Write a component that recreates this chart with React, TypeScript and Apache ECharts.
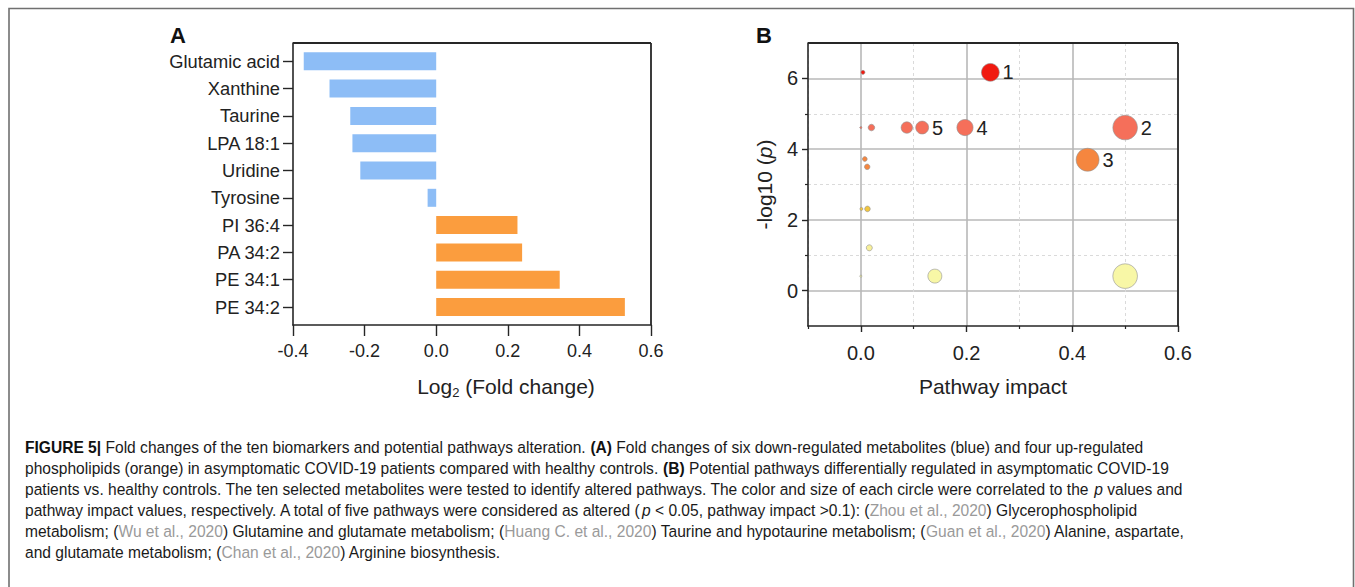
import React, { useEffect, useRef } from "react";
import * as echarts from "echarts";

// ---------- Panel A data ----------
const metabolites = [
  "Glutamic acid",
  "Xanthine",
  "Taurine",
  "LPA 18:1",
  "Uridine",
  "Tyrosine",
  "PI 36:4",
  "PA 34:2",
  "PE 34:1",
  "PE 34:2",
];
const log2FoldChange = [-0.37, -0.298, -0.24, -0.234, -0.212, -0.024, 0.227, 0.24, 0.345, 0.527];

// ---------- Panel B data ----------
const pathwayImpact = [0.245, 0.004, 0.5, 0.197, 0.116, 0.087, 0.02, 0.0, 0.429, 0.0075, 0.012, 0.0125, 0.001, 0.016, 0.14, 0.5, 0.0];
const negLog10P = [6.17, 6.17, 4.61, 4.61, 4.61, 4.61, 4.61, 4.61, 3.7, 3.72, 3.5, 2.31, 2.31, 1.21, 0.41, 0.41, 0.41];
const pathwayLabels = ["1", "", "2", "4", "5", "", "", "", "3", "", "", "", "", "", "", "", ""];
const impactMajorTicks = [0, 0.2, 0.4, 0.6];
const impactMinorTicks = [-0.1, 0.1, 0.3, 0.5];
const pMajorTicks = [0, 2, 4, 6];
const pMinorTicks = [1, 3, 5];

// ---------- Caption ----------
const captionLines = [
  "{b|FIGURE 5|} Fold changes of the ten biomarkers and potential pathways alteration. {b|(A)} Fold changes of six down-regulated metabolites (blue) and four up-regulated",
  "phospholipids (orange) in asymptomatic COVID-19 patients compared with healthy controls. {b|(B)} Potential pathways differentially regulated in asymptomatic COVID-19",
  "patients vs. healthy controls. The ten selected metabolites were tested to identify altered pathways. The color and size of each circle were correlated to the {i|p} values and",
  "pathway impact values, respectively. A total of five pathways were considered as altered ({i|p} < 0.05, pathway impact >0.1): ({g|Zhou et al., 2020}) Glycerophospholipid",
  "metabolism; ({g|Wu et al., 2020}) Glutamine and glutamate metabolism; ({g|Huang C. et al., 2020}) Taurine and hypotaurine metabolism; ({g|Guan et al., 2020}) Alanine, aspartate,",
  "and glutamate metabolism; ({g|Chan et al., 2020}) Arginine biosynthesis.",
];

const FONT = "'Liberation Sans', Arial, Helvetica, sans-serif";
const BLUE = "#8dbdf6";
const ORANGE = "#fb9d3e";
const AXIS = "#262626";

const fmt1 = (v: number) => (Math.abs(v) < 1e-9 ? "0.0" : v.toFixed(1));

const frameLine = { show: true, onZero: false, lineStyle: { color: AXIS, width: 1.6 } };

const frameA = { left: 293, top: 43, width: 358, height: 282 };
const frameB = { left: 808, top: 43, width: 370, height: 283 };

export default function App() {
  const ref = useRef<HTMLDivElement>(null);

  useEffect(() => {
    document.body.style.margin = "0";
    if (!ref.current) return;
    const chart = echarts.init(ref.current, undefined, { renderer: "svg" });

    const band = 27.3;
    const barsGridTop = 61.3 - band / 2;

    const frameEdges = (f: typeof frameA) => [
      { type: "line", silent: true, z: 50, shape: { x1: f.left, y1: f.top, x2: f.left + f.width, y2: f.top }, style: { stroke: AXIS, lineWidth: 1.8 } },
      { type: "line", silent: true, z: 50, shape: { x1: f.left + f.width, y1: f.top, x2: f.left + f.width, y2: f.top + f.height }, style: { stroke: AXIS, lineWidth: 1.8 } },
    ];

    const option: any = {
      animation: false,
      textStyle: { fontFamily: FONT },
      grid: [
        { ...frameA, show: false },
        { left: frameA.left, width: frameA.width, top: barsGridTop, height: band * 10, show: false },
        { ...frameB, show: false },
      ],
      xAxis: [
        {
          gridIndex: 0,
          type: "value",
          position: "bottom",
          min: -0.4,
          max: 0.6,
          interval: 0.2,
          axisLine: frameLine,
          axisTick: { show: true, length: 11, inside: false, lineStyle: { color: AXIS, width: 1.4 } },
          axisLabel: { fontSize: 18, color: "#222", margin: 17, formatter: (v: number) => fmt1(v), fontFamily: FONT },
          splitLine: { show: false },
          name: "Log{sub|2} (Fold change)",
          nameLocation: "middle",
          nameGap: 48,
          nameTextStyle: {
            fontSize: 21,
            color: "#222",
            fontFamily: FONT,
            lineHeight: 26,
            padding: [0, 0, 0, 68],
            rich: { sub: { fontSize: 13, lineHeight: 13, verticalAlign: "bottom", fontFamily: FONT, color: "#222" } },
          },
        },
        { gridIndex: 1, type: "value", min: -0.4, max: 0.6, show: false },
        {
          gridIndex: 2,
          type: "value",
          position: "bottom",
          min: -0.1,
          max: 0.6,
          axisLine: frameLine,
          axisTick: { show: true, length: 6, customValues: impactMajorTicks, lineStyle: { color: AXIS, width: 1.4 } },
          axisLabel: { fontSize: 20, color: "#222", margin: 17, customValues: impactMajorTicks, formatter: (v: number) => fmt1(v), fontFamily: FONT },
          splitLine: { show: true, lineStyle: { color: "#b8b8b8", width: 1.6 } },
          name: "Pathway impact",
          nameLocation: "middle",
          nameGap: 50,
          nameTextStyle: { fontSize: 21, color: "#222", fontFamily: FONT },
        },
        {
          gridIndex: 2,
          type: "value",
          position: "bottom",
          min: -0.1,
          max: 0.6,
          axisLine: { show: false, onZero: false },
          axisTick: { show: true, length: 3, customValues: impactMinorTicks, lineStyle: { color: AXIS, width: 1.2 } },
          axisLabel: { show: false, customValues: impactMinorTicks },
          splitLine: { show: true, lineStyle: { color: "#dadada", width: 1, type: [3, 3] } },
        },
      ],
      yAxis: [
        { gridIndex: 0, type: "value", position: "left", min: 0, max: 1, axisLine: frameLine, axisTick: { show: false }, axisLabel: { show: false }, splitLine: { show: false } },
        {
          gridIndex: 1,
          type: "category",
          data: metabolites,
          inverse: true,
          boundaryGap: true,
          position: "left",
          axisLine: { show: false, onZero: false },
          axisTick: { show: true, alignWithLabel: true, length: 10, lineStyle: { color: AXIS, width: 1.4 } },
          axisLabel: { fontSize: 18.3, color: "#222", margin: 13, fontFamily: FONT },
          splitLine: { show: false },
        },
        {
          gridIndex: 2,
          type: "value",
          position: "left",
          min: -1,
          max: 7,
          axisLine: frameLine,
          axisTick: { show: true, length: 6, customValues: pMajorTicks, lineStyle: { color: AXIS, width: 1.4 } },
          axisLabel: { fontSize: 20, color: "#222", margin: 10, customValues: pMajorTicks, fontFamily: FONT },
          splitLine: { show: true, lineStyle: { color: "#b8b8b8", width: 1.6 } },
          name: "-log10 ({i|p})",
          nameLocation: "middle",
          nameRotate: 90,
          nameGap: 33,
          nameTextStyle: {
            fontSize: 21,
            color: "#222",
            fontFamily: FONT,
            rich: { i: { fontSize: 21, fontStyle: "italic", color: "#222", fontFamily: FONT } },
          },
        },
        {
          gridIndex: 2,
          type: "value",
          position: "left",
          min: -1,
          max: 7,
          axisLine: { show: false, onZero: false },
          axisTick: { show: true, length: 3, customValues: pMinorTicks, lineStyle: { color: AXIS, width: 1.2 } },
          axisLabel: { show: false, customValues: pMinorTicks },
          splitLine: { show: true, lineStyle: { color: "#dadada", width: 1, type: [3, 3] } },
        },
      ],
      visualMap: [
        {
          type: "piecewise",
          show: false,
          seriesIndex: 1,
          dimension: 1,
          pieces: [
            { lt: 1, color: "#f8f7a6" },
            { gte: 1, lt: 2, color: "#f8f09a" },
            { gte: 2, lt: 3, color: "#f2c63e" },
            { gte: 3, lt: 4, color: "#f5863f" },
            { gte: 4, lt: 5, color: "#f56f5a" },
            { gte: 5, color: "#f01a10" },
          ],
        },
      ],
      series: [
        {
          type: "bar",
          xAxisIndex: 1,
          yAxisIndex: 1,
          data: log2FoldChange,
          barWidth: 18,
          itemStyle: {
            color: (p: any) => (p.value < 0 ? BLUE : ORANGE),
          },
        },
        {
          type: "scatter",
          xAxisIndex: 2,
          yAxisIndex: 2,
          data: pathwayImpact.map((x, i) => [x, negLog10P[i]]),
          symbol: "circle",
          symbolSize: (val: number[]) => 2 + 32 * Math.sqrt(val[0]),
          itemStyle: { borderColor: "#909090", borderWidth: 0.6, opacity: 1 },
          label: {
            show: true,
            position: "right",
            distance: 3,
            fontSize: 20,
            color: "#222",
            fontFamily: FONT,
            formatter: (p: any) => pathwayLabels[p.dataIndex],
          },
          z: 3,
        },
      ],
      graphic: [
        {
          type: "rect",
          silent: true,
          shape: { x: 9, y: 8.5, width: 1344.5, height: 640 },
          style: { fill: "none", stroke: "#707070", lineWidth: 1.6 },
        },
        ...frameEdges(frameA),
        ...frameEdges(frameB),
        {
          type: "text",
          x: 170,
          y: 35.5,
          style: { text: "A", fontSize: 22, fontWeight: "bold", fontFamily: FONT, fill: "#111", verticalAlign: "middle" },
        },
        {
          type: "text",
          x: 756,
          y: 35.5,
          style: { text: "B", fontSize: 22, fontWeight: "bold", fontFamily: FONT, fill: "#111", verticalAlign: "middle" },
        },
        ...captionLines.map((line, i) => ({
          type: "text",
          x: 25,
          y: 446.7 + i * 21,
          scaleX: 0.944,
          style: {
            text: line,
            fontSize: 16.5,
            fontFamily: FONT,
            fill: "#1a1a1a",
            verticalAlign: "middle",
            rich: {
              b: { fontWeight: "bold", fontSize: 16.5, fontFamily: FONT, fill: "#111" },
              i: { fontStyle: "italic", fontSize: 16.5, fontFamily: FONT, fill: "#1a1a1a" },
              g: { fontSize: 16.5, fontFamily: FONT, fill: "#9a9a9a" },
            },
          },
        })),
      ],
    };

    chart.setOption(option);
    return () => chart.dispose();
  }, []);

  return <div ref={ref} style={{ width: 1355, height: 587 }} />;
}
